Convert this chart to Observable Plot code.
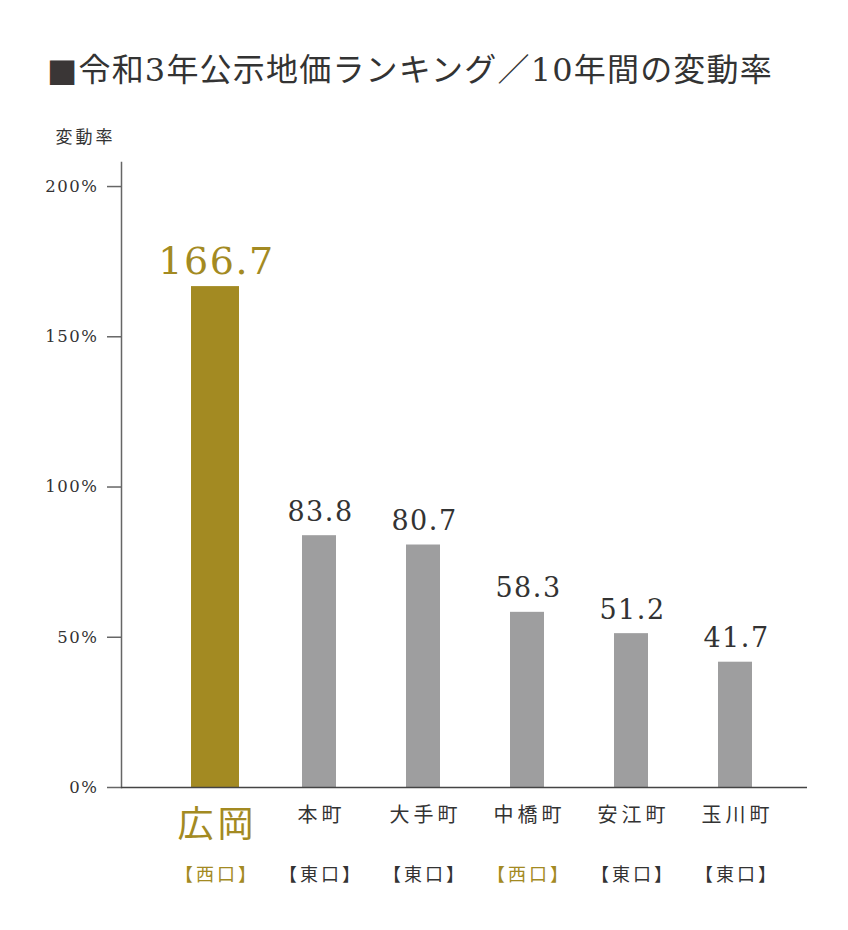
<!DOCTYPE html>
<html><head><meta charset="utf-8">
<script src="https://cdn.jsdelivr.net/npm/d3@7"></script>
<script src="https://cdn.jsdelivr.net/npm/@observablehq/plot@0.6"></script>
<style>
body{margin:0;background:#fff;}
#title{height:100px;box-sizing:border-box;padding:50px 0 0 47px;line-height:40px;font-size:32px;letter-spacing:1.2px;font-family:"DejaVu Serif","Noto Sans CJK JP",serif;color:#333;white-space:nowrap;}
#title .sq{color:#3a3636;}
</style></head>
<body>
<div id="title"><span class="sq">■</span>令和3年公示地価ランキング／10年間の変動率</div>
<div id="chart"></div>
<script>
const areas = ["広岡","本町","大手町","中橋町","安江町","玉川町"];
const rates = [166.7, 83.8, 80.7, 58.3, 51.2, 41.7];
const exits = ["【西口】","【東口】","【東口】","【西口】","【東口】","【東口】"];
const yTicks = [0, 50, 100, 150, 200];
const highlightArea = "広岡";
const yLabel = "変動率";

const GOLD = "#a38a22", GRAY = "#9e9e9f", INK = "#333";
const data = areas.map((a, i) => ({area: a, rate: rates[i], exit: exits[i]}));
const hi = data.filter(d => d.area === highlightArea);
const lo = data.filter(d => d.area !== highlightArea);
const FONT = '"DejaVu Serif","Noto Sans CJK JP",serif';

const chart = Plot.plot({
  width: 848,
  height: 830,
  marginTop: 62,
  marginBottom: 143,
  marginLeft: 121,
  marginRight: 41,
  style: {fontFamily: FONT, color: INK, background: "#fff"},
  x: {domain: areas, padding: 0, insetLeft: 41, insetRight: 20, axis: null},
  y: {domain: [0, 208], axis: null},
  marks: [
    Plot.barY(hi, {x: "area", y: "rate", fill: GOLD, insetLeft: 28, insetRight: 28}),
    Plot.barY(lo, {x: "area", y: "rate", fill: GRAY, insetLeft: 35, insetRight: 35}),
    Plot.frame({anchor: "left", stroke: "#666", strokeWidth: 1.5}),
    Plot.ruleY([0], {stroke: "#444", strokeWidth: 1.5}),
    Plot.axisY({ticks: yTicks, tickSize: 14, tickPadding: 9, tickFormat: d => d + "%",
      fontSize: 16.5, stroke: "#666", strokeWidth: 1.5, fill: INK, label: null}),
    Plot.text([yLabel], {frameAnchor: "top-left", text: d => d, textAnchor: "start",
      dx: -66, dy: -32, fontSize: 17, fill: INK}),
    Plot.text(hi, {x: "area", y: "rate", text: d => d.rate.toFixed(1), lineAnchor: "bottom",
      dy: -13, dx: 1, fontSize: 38, fill: GOLD}),
    Plot.text(lo, {x: "area", y: "rate", text: d => d.rate.toFixed(1), lineAnchor: "bottom",
      dy: -15, dx: 1, fontSize: 27, fill: INK}),
    Plot.text(hi, {x: "area", text: "area", frameAnchor: "bottom", lineAnchor: "middle",
      dy: 38, dx: 2, fontSize: 36, fill: GOLD}),
    Plot.text(lo, {x: "area", text: "area", frameAnchor: "bottom", lineAnchor: "middle",
      dy: 28, dx: 2, fontSize: 20, fill: INK}),
    Plot.text(data, {x: "area", text: "exit", frameAnchor: "bottom", lineAnchor: "middle",
      dy: 88, dx: 1.5, fontSize: 18, fill: d => d.exit === "【西口】" ? GOLD : INK})
  ]
});
const spacing = ["3px", "1.5px", "1.5px", "4px", "4px", "3px"];
const texts = d3.select(chart).selectAll('g[aria-label="text"]').nodes();
texts.forEach((g, i) => { if (spacing[i]) g.setAttribute("letter-spacing", spacing[i]); });
d3.select(chart).selectAll('g[aria-label="y-axis tick label"]').attr("letter-spacing", "1.5px");
document.getElementById("chart").appendChild(chart);
</script>
</body></html>
